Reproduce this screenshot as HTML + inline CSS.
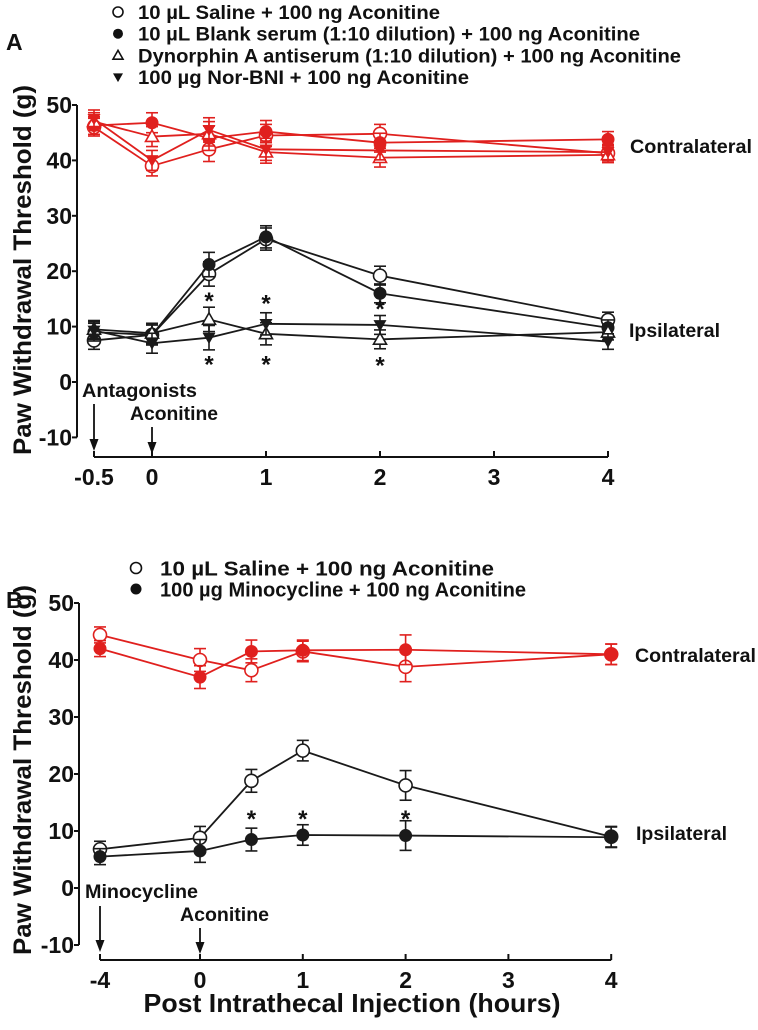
<!DOCTYPE html>
<html><head><meta charset="utf-8"><style>
html,body{margin:0;padding:0;background:#fff;}
svg{display:block;font-family:"Liberation Sans",Arial,sans-serif;font-weight:bold;}
</style></head><body>
<svg id="fig" width="758" height="1030" viewBox="0 0 758 1030" xmlns="http://www.w3.org/2000/svg"></svg>
<script>
// ---- Panel A data ----
const xA = [-0.5, 0, 0.5, 1, 2, 4];
const aContraSaline = [46, 39, 42, 44.5, 44.8, 41.3];
const aContraBlank = [46.3, 46.8, 44, 45.2, 43.2, 43.8];
const aContraDyn = [47, 44.3, 44.8, 41.5, 40.5, 41];
const aContraNor = [47.5, 40, 45.5, 42, 41.8, 41.5];
const aIpsiSaline = [7.5, 8.5, 19.5, 25.8, 19.2, 11.2];
const aIpsiBlank = [9, 8.5, 21.2, 26.2, 16, 9.8];
const aIpsiDyn = [9.5, 8.8, 11.3, 8.7, 7.7, 9];
const aIpsiNor = [9.3, 7, 8, 10.5, 10.3, 7.3];
const aErr = [1.6, 1.8, 2.2, 2.0, 1.7, 1.4];
const aStarsAbove = [[0.5, 15], [1, 14.5], [2, 13.5]];
const aStarsBelow = [[0.5, 3.5], [1, 3.5], [2, 3.3]];
const aXTicks = [-0.5, 0, 1, 2, 3, 4];
const aXLabels = ["-0.5", "0", "1", "2", "3", "4"];
// ---- Panel B data ----
const xB = [-4, 0, 0.5, 1, 2, 4];
const bContraSaline = [44.4, 40, 38.2, 41.5, 38.8, 41];
const bContraMino = [42, 37, 41.5, 41.7, 41.8, 41];
const bIpsiSaline = [6.8, 8.8, 18.8, 24.1, 18, 9];
const bIpsiMino = [5.5, 6.5, 8.5, 9.3, 9.2, 8.9];
const bErr = [1.4, 2.0, 2.0, 1.8, 2.6, 1.8];
const bStars = [[0.5, 12.5], [1, 12.5], [2, 12.5]];
const bXTicks = [-4, 0, 1, 2, 3, 4];
const bXLabels = ["-4", "0", "1", "2", "3", "4"];
const yTicks = [-10, 0, 10, 20, 30, 40, 50];

const NS = "http://www.w3.org/2000/svg";
const svg = document.getElementById("fig");
function el(tag, attrs, parent) {
  const e = document.createElementNS(NS, tag);
  for (const k in attrs) e.setAttribute(k, attrs[k]);
  (parent || svg).appendChild(e);
  return e;
}
function txt(s, x, y, size, anchor, parent, len) {
  const t = el("text", {x: x, y: y, "font-size": size, "text-anchor": anchor || "start", fill: "#111"}, parent);
  if (len) { t.setAttribute("textLength", len); t.setAttribute("lengthAdjust", "spacingAndGlyphs"); }
  t.textContent = s;
  return t;
}
function marker(type, cx, cy, color, parent, r) {
  r = r || 6.5;
  let m;
  if (type === "oc") m = el("circle", {cx: cx, cy: cy, r: r, fill: "#fff", stroke: color, "stroke-width": 1.6}, parent);
  else if (type === "fc") m = el("circle", {cx: cx, cy: cy, r: r, fill: color}, parent);
  else if (type === "ot") m = el("polygon", {points: `${cx},${cy-r} ${cx-r},${cy+r*0.75} ${cx+r},${cy+r*0.75}`, fill: "#fff", stroke: color, "stroke-width": 1.6}, parent);
  else m = el("polygon", {points: `${cx-r},${cy-r*0.75} ${cx+r},${cy-r*0.75} ${cx},${cy+r}`, fill: color}, parent);
  return m;
}

function panel(cfg) {
  const g = el("g", {});
  
  
  const X = cfg.X, Y = v => cfg.y0 - v * cfg.ky;
  const ya = el("g", {}, g);
  
  
  el("line", {x1: cfg.yAxisX, x2: cfg.yAxisX, y1: Y(50), y2: Y(-10), stroke: "#111", "stroke-width": 2}, ya);
  yTicks.forEach(v => {
    el("line", {x1: cfg.yAxisX - 5, x2: cfg.yAxisX, y1: Y(v), y2: Y(v), stroke: "#111", "stroke-width": 2}, ya);
    const t = txt(String(v), cfg.yAxisX - 5, Y(v) + 8, 23, "end", ya);
    
    
  });
  const xa = el("g", {}, g);
  
  
  el("line", {x1: X(cfg.xTicks[0]), x2: X(4), y1: cfg.xAxisY, y2: cfg.xAxisY, stroke: "#111", "stroke-width": 2}, xa);
  cfg.xTicks.forEach((v, i) => {
    el("line", {x1: X(v), x2: X(v), y1: cfg.xAxisY - 6, y2: cfg.xAxisY, stroke: "#111", "stroke-width": 2}, xa);
    const t = txt(cfg.xLabels[i], X(v), cfg.xAxisY + 28, 23, "middle", xa);
    
    
  });
  cfg.series.forEach(s => {
    const sg = el("g", {}, g);
    
    
    const pts = s.vals.map((v, i) => `${X(cfg.xs[i])},${Y(v)}`).join(" ");
    el("polyline", {points: pts, fill: "none", stroke: s.color, "stroke-width": 1.8}, sg);
    s.vals.forEach((v, i) => {
      const x = X(cfg.xs[i]), e = cfg.err[i];
      el("line", {x1: x, x2: x, y1: Y(v + e), y2: Y(v - e), stroke: s.color, "stroke-width": 1.6}, sg);
      el("line", {x1: x - 6, x2: x + 6, y1: Y(v + e), y2: Y(v + e), stroke: s.color, "stroke-width": 1.6}, sg);
      el("line", {x1: x - 6, x2: x + 6, y1: Y(v - e), y2: Y(v - e), stroke: s.color, "stroke-width": 1.6}, sg);
      const m = marker(s.type, x, Y(v), s.color, sg);
      
      
    });
  });
  cfg.stars.forEach(p => {
    const t = txt("*", X(p[0]), Y(p[1]) + 10, 24, "middle", g);
    
    
  });
  return {g: g, X: X, Y: Y};
}

const redC = "#e0201e", blk = "#1a1a1a";
// Panel A
const XA = v => v < 0 ? 152 + v * 116 : 152 + v * 114;
panel({name: "panel-a", X: XA, y0: 382, ky: 5.54, yAxisX: 77, xAxisY: 457,
  xTicks: aXTicks, xLabels: aXLabels, xs: xA, err: aErr,
  stars: aStarsAbove.concat(aStarsBelow),
  series: [
    {name: "a-contra-saline", vals: aContraSaline, type: "oc", color: redC},
    {name: "a-contra-blank", vals: aContraBlank, type: "fc", color: redC},
    {name: "a-contra-dynorphin", vals: aContraDyn, type: "ot", color: redC},
    {name: "a-contra-norbni", vals: aContraNor, type: "ft", color: redC},
    {name: "a-ipsi-saline", vals: aIpsiSaline, type: "oc", color: blk},
    {name: "a-ipsi-blank", vals: aIpsiBlank, type: "fc", color: blk},
    {name: "a-ipsi-dynorphin", vals: aIpsiDyn, type: "ot", color: blk},
    {name: "a-ipsi-norbni", vals: aIpsiNor, type: "ft", color: blk}
  ]});
// Panel B
const XB = v => v < 0 ? 200 + v * 25 : 200 + v * 102.8;
panel({name: "panel-b", X: XB, y0: 888, ky: 5.7, yAxisX: 79, xAxisY: 960,
  xTicks: bXTicks, xLabels: bXLabels, xs: xB, err: bErr, stars: bStars,
  series: [
    {name: "b-contra-saline", vals: bContraSaline, type: "oc", color: redC},
    {name: "b-contra-minocycline", vals: bContraMino, type: "fc", color: redC},
    {name: "b-ipsi-saline", vals: bIpsiSaline, type: "oc", color: blk},
    {name: "b-ipsi-minocycline", vals: bIpsiMino, type: "fc", color: blk}
  ]});

function named(t, n) {   return t; }
named(txt("A", 6, 50, 23, "start"), "panel-a-label");
named(txt("B", 6, 608, 23, "start"), "panel-b-label");
const legA = [["oc", "10 \u00b5L Saline + 100 ng Aconitine", 302],
  ["fc", "10 \u00b5L Blank serum (1:10 dilution) + 100 ng Aconitine", 502],
  ["ot", "Dynorphin A antiserum (1:10 dilution) + 100 ng Aconitine", 543],
  ["ft", "100 \u00b5g Nor-BNI + 100 ng Aconitine", 331]];
legA.forEach((l, i) => {
  const cy = 12 + i * 21.7;
  const m = marker(l[0], 118, cy, "#111", svg, 5);
  named(m, "legend-a-marker");
  named(txt(l[1], 138, cy + 7, 19, "start", svg, l[2]), "legend-a-entry");
});
const legB = [["oc", "10 \u00b5L Saline + 100 ng Aconitine", 334],
  ["fc", "100 \u00b5g Minocycline + 100 ng Aconitine", 366]];
legB.forEach((l, i) => {
  const cy = 568 + i * 21;
  const m = marker(l[0], 136, cy, "#111", svg, 5.5);
  named(m, "legend-b-marker");
  named(txt(l[1], 160, cy + 7.5, 20, "start", svg, l[2]), "legend-b-entry");
});
named(txt("Contralateral", 630, 153, 19, "start", svg, 122), "contralateral-label-a");
named(txt("Ipsilateral", 629, 337, 19, "start", svg, 91), "ipsilateral-label-a");
named(txt("Contralateral", 635, 662, 19, "start", svg, 121), "contralateral-label-b");
named(txt("Ipsilateral", 636, 840, 19, "start", svg, 91), "ipsilateral-label-b");
named(txt("Paw Withdrawal Threshold (g)", 0, 0, 25, "middle", svg, 370), "y-axis-title-a")
  .setAttribute("transform", "translate(31,270) rotate(-90)");
named(txt("Paw Withdrawal Threshold (g)", 0, 0, 25, "middle", svg, 370), "y-axis-title-b")
  .setAttribute("transform", "translate(31,770) rotate(-90)");
named(txt("Post Intrathecal Injection (hours)", 352, 1012, 26, "middle", svg, 417), "x-axis-title");
function arrow(x, y1, y2, n) {
  const g = el("g", {});
  named(g, n);
  el("line", {x1: x, x2: x, y1: y1, y2: y2 - 8, stroke: "#111", "stroke-width": 1.8}, g);
  el("polygon", {points: `${x - 4.5},${y2 - 12} ${x + 4.5},${y2 - 12} ${x},${y2}`, fill: "#111"}, g);
}
named(txt("Antagonists", 82, 397, 19, "start", svg, 115), "antagonists-annotation");
arrow(94, 404, 451, "antagonists-arrow");
named(txt("Aconitine", 130, 420, 19, "start", svg, 88), "aconitine-annotation-a");
arrow(152, 427, 454, "aconitine-arrow-a");
named(txt("Minocycline", 85, 898, 19, "start", svg, 113), "minocycline-annotation");
arrow(100, 906, 952, "minocycline-arrow");
named(txt("Aconitine", 180, 921, 19, "start", svg, 89), "aconitine-annotation-b");
arrow(200, 928, 954, "aconitine-arrow-b");
</script>
</body></html>
